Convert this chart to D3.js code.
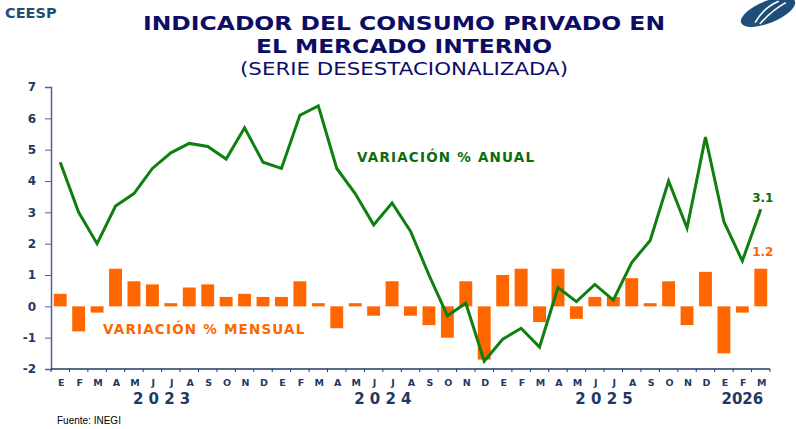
<!DOCTYPE html>
<html>
<head>
<meta charset="utf-8">
<script src="https://cdn.jsdelivr.net/npm/d3@7"></script>
<style>
  body { margin: 0; background: #fff; }
  svg { display: block; }
</style>
</head>
<body>
<div id="chart"></div>
<script>
// Meses (E = enero ... D = diciembre), ene 2023 - mar 2026
const months = ["E","F","M","A","M","J","J","A","S","O","N","D",
                "E","F","M","A","M","J","J","A","S","O","N","D",
                "E","F","M","A","M","J","J","A","S","O","N","D",
                "E","F","M"];

// Variacion % mensual (barras)
const monthly = [0.4, -0.8, -0.2, 1.2, 0.8, 0.7, 0.1, 0.6, 0.7, 0.3, 0.4, 0.3,
                 0.3, 0.8, 0.1, -0.7, 0.1, -0.3, 0.8, -0.3, -0.6, -1.0, 0.8, -1.7,
                 1.0, 1.2, -0.5, 1.2, -0.4, 0.3, 0.3, 0.9, 0.1, 0.8, -0.6, 1.1,
                 -1.5, -0.2, 1.2];

// Variacion % anual (linea)
const annual = [4.6, 3.0, 2.0, 3.2, 3.6, 4.4, 4.9, 5.2, 5.1, 4.7, 5.7, 4.6,
                4.4, 6.1, 6.4, 4.4, 3.6, 2.6, 3.3, 2.4, 1.0, -0.3, 0.1, -1.75,
                -1.05, -0.7, -1.3, 0.6, 0.15, 0.7, 0.2, 1.4, 2.1, 4.0, 2.5, 5.4,
                2.7, 1.45, 3.1];

// Etiquetas de año y el mes sobre el que se centran
const years = ["2 0 2 3", "2 0 2 4", "2 0 2 5", "2026"];
const yearCenter = [5.5, 17.5, 29.5, 37];

const yTicks = [-2, -1, 0, 1, 2, 3, 4, 5, 6, 7];

const width = 796, height = 429;
const margin = { top: 87, right: 26, bottom: 60, left: 51 };
const navy = "#1f3864";

const svg = d3.select("#chart").append("svg")
    .attr("width", width)
    .attr("height", height)
    .style("font-family", "'DejaVu Sans', Verdana, sans-serif");

// Scales
const x = d3.scaleBand()
    .domain(d3.range(months.length))
    .range([margin.left, width - margin.right])
    .padding(0);

const y = d3.scaleLinear()
    .domain([-2, 7])
    .range([height - margin.bottom, margin.top]);

const barW = x.bandwidth() * 0.7;
// centro de un mes (admite posiciones fraccionarias)
const cx = i => margin.left + (i + 0.5) * x.step();

// Header
svg.append("text")
    .attr("x", 5).attr("y", 18)
    .attr("font-size", 14.5).attr("font-weight", "bold")
    .attr("fill", "#1f4e79")
    .text("CEESP");

// Logo (decorativo)
const logo = svg.append("g").attr("transform", "translate(768,12) rotate(-22)");
logo.append("ellipse").attr("rx", 29).attr("ry", 11).attr("fill", "#1f4e79");
logo.append("path")
    .attr("d", "M-16,5 Q-2,-6 14,-6")
    .attr("fill", "none").attr("stroke", "#fff").attr("stroke-width", 1.6);
logo.append("path")
    .attr("d", "M-12,8 Q4,0 20,-2")
    .attr("fill", "none").attr("stroke", "#fff").attr("stroke-width", 1.6);

const titleColor = "#0d0d66";
svg.append("text")
    .attr("x", 404).attr("y", 30)
    .attr("text-anchor", "middle")
    .attr("font-size", 20).attr("font-weight", "bold")
    .attr("fill", titleColor)
    .attr("textLength", 522).attr("lengthAdjust", "spacingAndGlyphs")
    .text("INDICADOR DEL CONSUMO PRIVADO EN");
svg.append("text")
    .attr("x", 404).attr("y", 53)
    .attr("text-anchor", "middle")
    .attr("font-size", 20).attr("font-weight", "bold")
    .attr("fill", titleColor)
    .attr("textLength", 296).attr("lengthAdjust", "spacingAndGlyphs")
    .text("EL MERCADO INTERNO");
svg.append("text")
    .attr("x", 404).attr("y", 75)
    .attr("text-anchor", "middle")
    .attr("font-size", 18)
    .attr("fill", titleColor)
    .attr("textLength", 328).attr("lengthAdjust", "spacingAndGlyphs")
    .text("(SERIE DESESTACIONALIZADA)");

// Bars
svg.selectAll(".bar")
  .data(monthly)
  .enter()
  .append("rect")
    .attr("class", "bar")
    .attr("x", (d, i) => cx(i) - barW / 2)
    .attr("y", d => y(Math.max(0, d)))
    .attr("width", barW)
    .attr("height", d => Math.abs(y(d) - y(0)))
    .attr("fill", "#ff6600");

// Line
const line = d3.line()
    .x((d, i) => cx(i))
    .y(d => y(d));

svg.append("path")
    .datum(annual)
    .attr("d", line)
    .attr("fill", "none")
    .attr("stroke", "#0f7f0f")
    .attr("stroke-width", 3)
    .attr("stroke-linejoin", "miter");

// Y axis
const yAxis = svg.append("g")
    .attr("transform", `translate(${margin.left},0)`)
    .call(d3.axisLeft(y).tickValues(yTicks).tickSize(6).tickPadding(9).tickFormat(d => String(d)));
yAxis.select(".domain").attr("stroke", "#5a5aa8").attr("stroke-width", 1.5);
yAxis.selectAll(".tick line").attr("stroke", "#5a5aa8");
yAxis.selectAll(".tick text")
    .attr("font-size", 12).attr("font-weight", "bold")
    .attr("fill", navy)
    .style("font-family", "'DejaVu Sans', Verdana, sans-serif");

// X axis (at -2)
const xAxisY = y(-2);
svg.append("line")
    .attr("x1", margin.left).attr("x2", width - margin.right)
    .attr("y1", xAxisY).attr("y2", xAxisY)
    .attr("stroke", navy).attr("stroke-width", 1.5);

svg.selectAll(".xtick")
  .data(d3.range(months.length + 1))
  .enter()
  .append("line")
    .attr("class", "xtick")
    .attr("x1", i => cx(i - 0.5))
    .attr("x2", i => cx(i - 0.5))
    .attr("y1", xAxisY).attr("y2", xAxisY + 3)
    .attr("stroke", navy);

svg.selectAll(".month")
  .data(months)
  .enter()
  .append("text")
    .attr("class", "month")
    .attr("x", (d, i) => cx(i) + 1)
    .attr("y", xAxisY + 17)
    .attr("text-anchor", "middle")
    .attr("font-size", 9.5).attr("font-weight", "bold")
    .attr("fill", navy)
    .text(d => d);

svg.selectAll(".year")
  .data(years)
  .enter()
  .append("text")
    .attr("class", "year")
    .attr("x", (d, i) => cx(yearCenter[i]))
    .attr("y", xAxisY + 35)
    .attr("text-anchor", "middle")
    .attr("font-size", 15).attr("font-weight", "bold")
    .attr("fill", navy)
    .text(d => d);

// Series labels
svg.append("text")
    .attr("x", 357).attr("y", 162)
    .attr("font-size", 13.5).attr("font-weight", "bold")
    .attr("letter-spacing", 1.2)
    .attr("fill", "#0d6b0d")
    .text("VARIACIÓN % ANUAL");

svg.append("text")
    .attr("x", 103).attr("y", 334)
    .attr("font-size", 13.5).attr("font-weight", "bold")
    .attr("letter-spacing", 1.2)
    .attr("fill", "#ff6600")
    .text("VARIACIÓN % MENSUAL");

// Last-value labels
const last = months.length - 1;
svg.append("text")
    .attr("x", cx(last) + 2).attr("y", y(annual[last]) - 7)
    .attr("text-anchor", "middle")
    .attr("font-size", 12).attr("font-weight", "bold")
    .attr("fill", "#0d6b0d")
    .text(d3.format(".1f")(annual[last]));

svg.append("text")
    .attr("x", cx(last) + 2).attr("y", y(monthly[last]) - 13)
    .attr("text-anchor", "middle")
    .attr("font-size", 12).attr("font-weight", "bold")
    .attr("fill", "#ff6600")
    .text(d3.format(".1f")(monthly[last]));

// Source
svg.append("text")
    .attr("x", 57).attr("y", 424)
    .attr("font-size", 10)
    .attr("fill", "#000")
    .style("font-family", "'Liberation Sans', Arial, sans-serif")
    .text("Fuente: INEGI");
</script>
</body>
</html>
